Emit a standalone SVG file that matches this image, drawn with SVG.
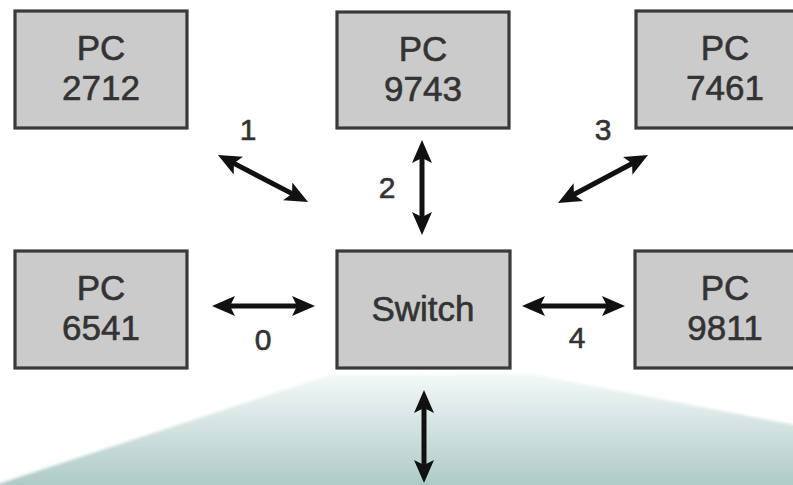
<svg xmlns="http://www.w3.org/2000/svg" width="793" height="485" viewBox="0 0 793 485">
<defs>
<linearGradient id="floor" x1="0" y1="375" x2="0" y2="485" gradientUnits="userSpaceOnUse">
<stop offset="0" stop-color="#f3f8f8"/>
<stop offset="0.35" stop-color="#dbe8e7"/>
<stop offset="1" stop-color="#aecbc7"/>
</linearGradient>
<filter id="soft" x="-5%" y="-20%" width="110%" height="140%"><feGaussianBlur stdDeviation="1.5"/></filter>
<marker id="ah" markerUnits="userSpaceOnUse" markerWidth="26" markerHeight="22" refX="12" refY="10" orient="auto-start-reverse" viewBox="0 0 26 22">
<path d="M0,0 L23,10 L0,20 L5,10 z" fill="#111"/>
</marker>
</defs>
<style>
.box{fill:#cbcbcb;stroke:#3a3a3a;stroke-width:3.2}
.t{font-family:"Liberation Sans",Arial,sans-serif;font-size:35px;fill:#333;stroke:#333;stroke-width:0.6;text-anchor:middle}
.n{font-family:"Liberation Sans",Arial,sans-serif;font-size:30px;fill:#333;stroke:#333;stroke-width:0.6;text-anchor:middle}
.a{stroke:#111;stroke-width:5;fill:none;marker-start:url(#ah);marker-end:url(#ah)}
</style>
<rect width="793" height="485" fill="#ffffff"/>
<path d="M-20,500 L-20,490 L330,375 L530,374 L810,428 L810,500 Z" fill="url(#floor)" filter="url(#soft)"/>
<g id="pc2712"><rect class="box" x="15" y="11" width="172" height="117"/><text class="t" x="101" y="60">PC</text><text class="t" x="101" y="100">2712</text></g>
<g id="pc9743"><rect class="box" x="337" y="12" width="172" height="116"/><text class="t" x="423" y="61">PC</text><text class="t" x="423" y="101">9743</text></g>
<g id="pc7461"><rect class="box" x="636" y="11" width="176" height="117"/><text class="t" x="725" y="60">PC</text><text class="t" x="725" y="100">7461</text></g>
<g id="pc6541"><rect class="box" x="15" y="251" width="172" height="117"/><text class="t" x="101" y="300">PC</text><text class="t" x="101" y="340">6541</text></g>
<g id="switch"><rect class="box" x="337" y="251" width="173" height="117"/><text class="t" x="423" y="321">Switch</text></g>
<g id="pc9811"><rect class="box" x="635" y="251" width="176" height="117"/><text class="t" x="725" y="300">PC</text><text class="t" x="725" y="340">9811</text></g>
<g id="connectors">
<line class="a" x1="223" y1="306" x2="304" y2="306"/>
<line class="a" x1="533" y1="306" x2="614" y2="306"/>
<line class="a" x1="422" y1="151" x2="422" y2="224"/>
<line class="a" x1="424" y1="401" x2="424" y2="472"/>
<line class="a" x1="567.7" y1="197.8" x2="638.3" y2="160.2"/>
<line class="a" x1="227.7" y1="160.1" x2="298.3" y2="196.9"/>
<text class="n" x="248" y="140">1</text>
<text class="n" x="387" y="198">2</text>
<text class="n" x="603" y="140">3</text>
<text class="n" x="263" y="350">0</text>
<text class="n" x="577" y="348">4</text>
</g>
</svg>
